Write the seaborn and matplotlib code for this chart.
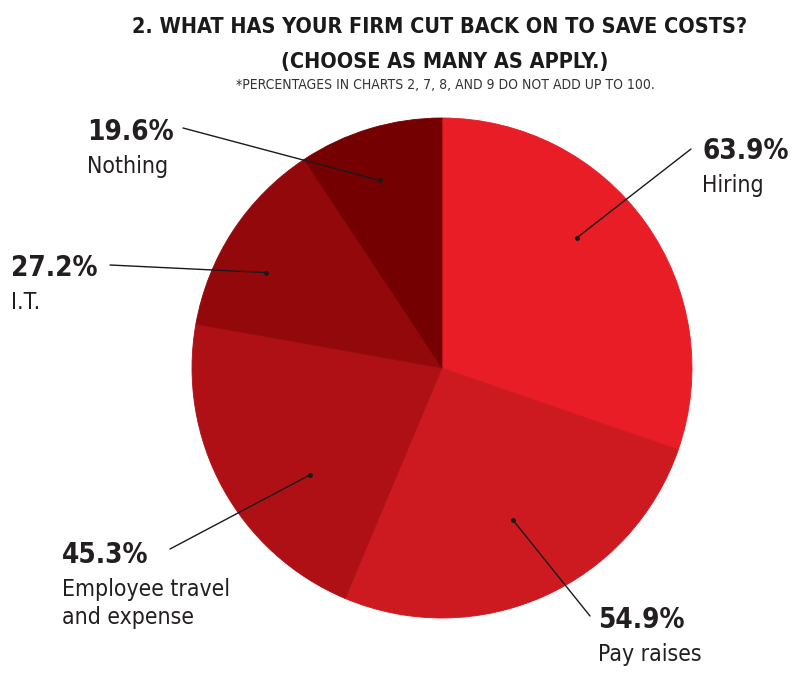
import numpy as np
import matplotlib.pyplot as plt
import seaborn as sns

sns.set_theme(style="white")
plt.rcParams['font.family'] = ['DejaVu Sans']

categories = ['Hiring', 'Pay raises', 'Employee travel\nand expense', 'I.T.', 'Nothing']
values = [63.9, 54.9, 45.3, 27.2, 19.6]
colors = ['#E81D26', '#CD1A21', '#AF1016', '#93090B', '#740002']

# leader-line anchor inside each wedge (angle deg, radius fraction)
anchors = [(44, 0.75), (-65, 0.67), (219, 0.68), (151.5, 0.80), (108.3, 0.79)]
# label left x and baseline of the percentage (figure px), outer end of leader line
label_pos = [(702, 159), (598, 628), (62, 563), (11, 276), (87, 140)]
line_end = [(691, 149), (590, 616), (170, 549), (110, 265), (183, 128)]

W, H = 800, 680
fig = plt.figure(figsize=(W / 100, H / 100), dpi=100)
fig.patch.set_facecolor('white')

cx, cy, R = 442, 368, 250
ax = fig.add_axes([(cx - R) / W, 1 - (cy + R) / H, 2 * R / W, 2 * R / H])
wedges, _ = ax.pie(values, colors=colors, startangle=90, counterclock=False,
                   wedgeprops=dict(linewidth=0.6))
# paint the wedge edges in their own colour so no seams show
for w, c in zip(wedges, colors):
    w.set_edgecolor(c)
ax.set_xlim(-1, 1)
ax.set_ylim(-1, 1)
ax.set_aspect('auto')
ax.axis('off')


def px(x, y):
    return x / W, 1 - y / H


ink = '#231f20'
for cat, val, (ang, r), (lx, ly), (ex, ey) in zip(categories, values, anchors, label_pos, line_end):
    dx = r * np.cos(np.radians(ang))
    dy = r * np.sin(np.radians(ang))
    ax.annotate('', xy=(dx, dy), xycoords='data',
                xytext=px(ex, ey), textcoords='figure fraction',
                arrowprops=dict(arrowstyle='-', color='#1a1a1a', lw=1.0,
                                shrinkA=0, shrinkB=0),
                annotation_clip=False)
    ax.plot(dx, dy, 'o', color='#1a1a1a', markersize=2.5)
    fig.text(*px(lx, ly), f'{val}%', fontsize=20, fontweight='bold',
             fontstretch='condensed', color=ink, va='baseline', ha='left')
    for i, line in enumerate(cat.split('\n')):
        fig.text(*px(lx, ly + 33 + 28 * i), line, fontsize=16.5,
                 fontstretch='condensed', color=ink, va='baseline', ha='left')

fig.text(*px(440, 33), '2. WHAT HAS YOUR FIRM CUT BACK ON TO SAVE COSTS?',
         fontsize=15.5, fontweight='bold', fontstretch='condensed',
         ha='center', va='baseline', color='#1a1a1a')
fig.text(*px(445, 68), '(CHOOSE AS MANY AS APPLY.)',
         fontsize=15.5, fontweight='bold', fontstretch='condensed',
         ha='center', va='baseline', color='#1a1a1a')
fig.text(*px(445, 89), '*PERCENTAGES IN CHARTS 2, 7, 8, AND 9 DO NOT ADD UP TO 100.',
         fontsize=10, fontstretch='condensed',
         ha='center', va='baseline', color='#333333')

fig.savefig('out.png', dpi=100, facecolor='white')
